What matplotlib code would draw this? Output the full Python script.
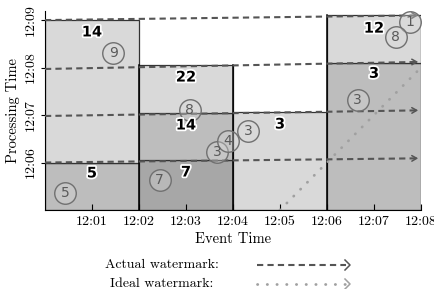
import matplotlib
matplotlib.use("Agg")
import matplotlib.pyplot as plt
import matplotlib.patheffects as pe
from matplotlib.lines import Line2D

plt.rcParams['font.family'] = ['cmr10', 'DejaVu Serif']
plt.rcParams['axes.unicode_minus'] = False

# time in minutes after 12:00 on both axes
tick_pos = [1, 2, 3, 4, 5, 6, 7, 8]
tick_labels = ["12:01", "12:02", "12:03", "12:04", "12:05", "12:06", "12:07", "12:08"]
ytick_pos = [6, 7, 8, 9]
ytick_labels = ["12:06", "12:07", "12:08", "12:09"]

# panes per window: (x start, x end, y bottom, y top, shade)
panes = [
    (0, 2, 5.0, 6.0, "mid"),
    (0, 2, 6.0, 9.0, "light"),
    (2, 4, 5.0, 6.05, "dark"),
    (2, 4, 6.05, 7.05, "mid"),
    (2, 4, 7.05, 8.05, "light"),
    (4, 6, 5.0, 7.07, "light"),
    (6, 8, 5.0, 8.1, "mid"),
    (6, 8, 8.1, 9.1, "light"),
]
shades = {"light": "#d9d9d9", "mid": "#bdbdbd", "dark": "#a7a7a7"}

# pane sums
sum_x = [1.0, 1.0, 3.0, 3.0, 3.0, 5.0, 7.0, 7.0]
sum_y = [8.75, 5.78, 7.8, 6.79, 5.8, 6.81, 8.83, 7.88]
sum_text = ["14", "5", "22", "14", "7", "3", "12", "3"]

# individual inputs (circled values)
dot_x = [1.45, 0.43, 3.08, 2.44, 3.66, 3.89, 4.33, 7.76, 7.46, 6.65]
dot_y = [8.30, 5.36, 7.10, 5.63, 6.22, 6.45, 6.66, 8.95, 8.64, 7.32]
dot_val = ["9", "5", "8", "7", "3", "4", "3", "1", "8", "3"]

# actual watermark steps (start at 12:00, end at 12:08)
wm_start = [9.0, 7.97, 6.98, 6.0]
wm_end = [9.1, 8.12, 7.1, 6.09]

# ideal watermark
ideal_x = [5, 8]
ideal_y = [5, 8]

fig = plt.figure(figsize=(4.35, 2.89), dpi=100)
ax = fig.add_axes([0.1034, 0.2734, 0.8644, 0.690])

for x0, x1, y0, y1, s in panes:
    ax.add_patch(plt.Rectangle((x0, y0), x1 - x0, y1 - y0, facecolor=shades[s],
                               edgecolor="#333333", lw=0.9, zorder=1))
for xb in [2, 4, 6]:
    ax.plot([xb, xb], [5, 8.05 if xb < 6 else 9.1], color="black", lw=1.1, zorder=1.5)

ax.plot(ideal_x, ideal_y, color="#a0a0a0", lw=2, linestyle=(0, (0.1, 3.4)),
        dash_capstyle="round", zorder=2)

for a, b in zip(wm_start, wm_end):
    ax.plot([0, 7.93], [a, b - 0.002], color="#555555", lw=1.5, linestyle=(0, (3, 2)),
            zorder=3, clip_on=False)
    ax.annotate("", xy=(8.0, b), xytext=(7.8, b - 0.003),
                arrowprops=dict(arrowstyle="->,head_length=0.35,head_width=0.2",
                                color="#555555", lw=1.1),
                annotation_clip=False, zorder=3)

ax.scatter(dot_x, dot_y, s=240, facecolor=(0.85, 0.85, 0.85, 0.35),
           edgecolor="#707070", lw=1.0, zorder=4)
for x, y, v in zip(dot_x, dot_y, dot_val):
    ax.text(x, y, v, ha="center", va="center", fontsize=10, color="#5a5a5a",
            family="DejaVu Sans", zorder=4.5)

for x, y, t in zip(sum_x, sum_y, sum_text):
    ax.text(x, y, t, ha="center", va="center", fontsize=10.5, fontweight="bold",
            family="DejaVu Sans", color="black", zorder=5,
            path_effects=[pe.withStroke(linewidth=2.5, foreground="white")])

ax.set_xlim(0, 8)
ax.set_ylim(5, 9.2)
ax.spines["top"].set_visible(False)
ax.spines["right"].set_visible(False)
ax.set_xticks(tick_pos)
ax.set_xticklabels(tick_labels, fontsize=10)
ax.set_yticks(ytick_pos)
ax.set_yticklabels(ytick_labels, fontsize=10, rotation=90, va="center")
ax.tick_params(axis="x", direction="in", length=4, pad=4)
ax.tick_params(axis="y", direction="out", length=3, pad=3)
ax.set_xlabel("Event Time", fontsize=10.5, labelpad=3)
ax.set_ylabel("Processing Time", fontsize=10.5, labelpad=3)

# legend
fig.text(162 / 435, 1 - 265 / 289, "Actual watermark:", ha="center", va="center", fontsize=10)
fig.text(162 / 435, 1 - 284 / 289, "Ideal watermark:", ha="center", va="center", fontsize=10)
fig.add_artist(Line2D([257 / 435, 346 / 435], [1 - 265 / 289] * 2, color="#555555",
                      lw=1.5, linestyle=(0, (3, 2))))
fig.add_artist(Line2D([257 / 435, 346 / 435], [1 - 284 / 289] * 2, color="#a0a0a0",
                      lw=2, linestyle=(0, (0.1, 3.4)), dash_capstyle="round"))
for yy, c in [(265, "#555555"), (284, "#a0a0a0")]:
    fig.add_artist(plt.Line2D([345 / 435, 350 / 435, 345 / 435],
                              [1 - (yy - 5) / 289, 1 - yy / 289, 1 - (yy + 5) / 289],
                              color=c, lw=1.1))

fig.savefig("out.png", dpi=100)
